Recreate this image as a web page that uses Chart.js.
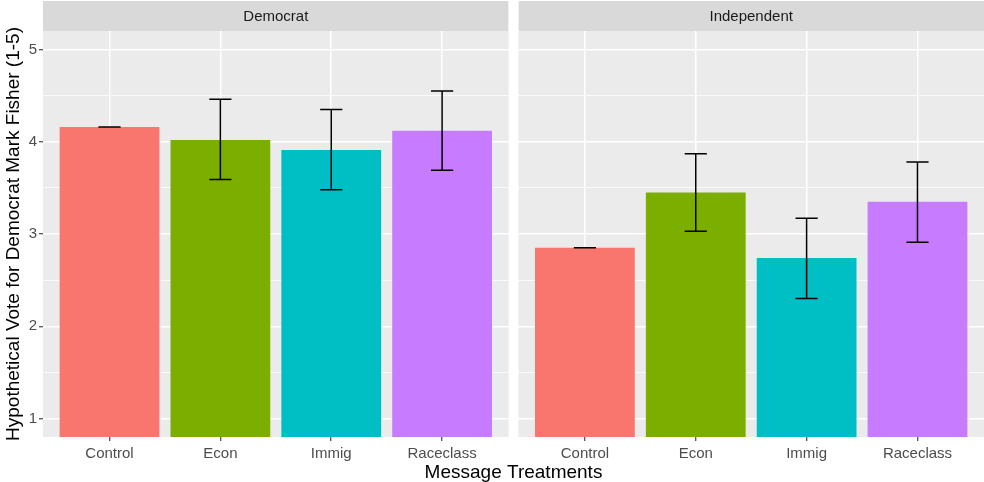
<!DOCTYPE html>
<html>
<head>
<meta charset="utf-8">
<script src="https://cdn.jsdelivr.net/npm/chart.js@4/dist/chart.umd.min.js"></script>
<style>
  html, body { margin: 0; padding: 0; background: #ffffff; }
  #wrap { width: 984px; height: 482px; }
</style>
</head>
<body>
<div id="wrap"><canvas id="chart" width="984" height="482"></canvas></div>
<script>
// Message treatments and facet names
const treatments = ['Control', 'Econ', 'Immig', 'Raceclass'];
const panels = ['Democrat', 'Independent'];

// Mean hypothetical vote (1-5) with confidence bounds, per facet
const democratMeans = [4.16, 4.02, 3.91, 4.12];
const democratLower = [4.16, 3.59, 3.48, 3.69];
const democratUpper = [4.16, 4.46, 4.35, 4.55];

const independentMeans = [2.85, 3.45, 2.74, 3.35];
const independentLower = [2.85, 3.03, 2.30, 2.91];
const independentUpper = [2.85, 3.87, 3.17, 3.78];

// Y axis labels
const yTickLabels = [1, 2, 3, 4, 5];

const barColors = ['#F8766D', '#7CAE00', '#00BFC4', '#C77CFF'];

// Facet geometry on a shared linear x axis (one unit per treatment)
const EXPAND = 0.6;          // discrete-axis padding on each side of a facet
const GAP = 0.088;           // white gutter between facets
const n = treatments.length;
const X_MIN = 1 - EXPAND;
const LEFT_END = n + EXPAND;
const SHIFT = LEFT_END + GAP - X_MIN;
const X_MAX = n + SHIFT + EXPAND;
const panelRanges = [[X_MIN, LEFT_END], [X_MIN + SHIFT, X_MAX]];
const xTickValues = treatments.map((_, i) => i + 1)
  .concat(treatments.map((_, i) => i + 1 + SHIFT));

const FONT = '"Liberation Sans", Arial, Helvetica, sans-serif';
Chart.defaults.font.family = FONT;

function points(means, shift) {
  return means.map((m, i) => ({ x: i + 1 + shift, y: m }));
}

// Grey panel backgrounds, facet strips and the gutter between facets
const facetPlugin = {
  id: 'facets',
  beforeDraw(chart) {
    const { ctx, chartArea: a, scales: { x } } = chart;
    ctx.save();
    ctx.fillStyle = '#EBEBEB';
    ctx.fillRect(a.left, a.top, a.right - a.left, a.bottom - a.top);
    panelRanges.forEach((r, k) => {
      const l = x.getPixelForValue(r[0]);
      const rr = x.getPixelForValue(r[1]);
      ctx.fillStyle = '#D9D9D9';
      ctx.fillRect(l, 1, rr - l, a.top - 1);
      ctx.fillStyle = '#1A1A1A';
      ctx.font = '15px ' + FONT;
      ctx.textAlign = 'center';
      ctx.textBaseline = 'middle';
      ctx.fillText(panels[k], (l + rr) / 2, (1 + a.top) / 2 + 1);
    });
    ctx.restore();
  },
  beforeDatasetsDraw(chart) {
    const { ctx, chartArea: a, scales: { x } } = chart;
    const gl = x.getPixelForValue(LEFT_END);
    const gr = x.getPixelForValue(LEFT_END + GAP);
    ctx.save();
    ctx.fillStyle = '#FFFFFF';
    ctx.fillRect(gl, 0, gr - gl, a.bottom - 0);
    ctx.restore();
  }
};

// Error bars with caps, drawn from each dataset's lower/upper arrays
const errorBarPlugin = {
  id: 'errorBars',
  afterDatasetsDraw(chart) {
    const { ctx, scales: { x, y } } = chart;
    ctx.save();
    ctx.strokeStyle = '#000000';
    ctx.lineWidth = 1.5;
    chart.data.datasets.forEach(ds => {
      ds.data.forEach((p, i) => {
        const px = x.getPixelForValue(p.x);
        const half = x.getPixelForValue(p.x + 0.1) - px;
        const yl = y.getPixelForValue(ds.errLow[i]);
        const yh = y.getPixelForValue(ds.errHigh[i]);
        ctx.beginPath();
        ctx.moveTo(px, yl); ctx.lineTo(px, yh);
        ctx.moveTo(px - half, yh); ctx.lineTo(px + half, yh);
        ctx.moveTo(px - half, yl); ctx.lineTo(px + half, yl);
        ctx.stroke();
      });
    });
    ctx.restore();
  }
};

const isMajor = v => Math.abs(v - Math.round(v)) < 1e-9;

new Chart(document.getElementById('chart'), {
  type: 'bar',
  data: {
    datasets: [
      {
        label: panels[0],
        data: points(democratMeans, 0),
        errLow: democratLower,
        errHigh: democratUpper,
        backgroundColor: barColors,
        grouped: false,
        categoryPercentage: 1,
        barPercentage: 0.9
      },
      {
        label: panels[1],
        data: points(independentMeans, SHIFT),
        errLow: independentLower,
        errHigh: independentUpper,
        backgroundColor: barColors,
        grouped: false,
        categoryPercentage: 1,
        barPercentage: 0.9
      }
    ]
  },
  options: {
    responsive: false,
    animation: false,
    layout: { padding: { top: 31, right: 0, left: 0, bottom: 0 } },
    plugins: {
      legend: { display: false },
      tooltip: { enabled: false },
      title: { display: false }
    },
    scales: {
      x: {
        type: 'linear',
        min: X_MIN,
        max: X_MAX,
        offset: false,
        afterBuildTicks: s => { s.ticks = xTickValues.map(v => ({ value: v })); },
        afterFit: s => { s.height = 45; },
        ticks: {
          callback: (v, i) => treatments[i % n],
          autoSkip: false,
          maxRotation: 0,
          padding: 4,
          color: '#4D4D4D',
          font: { size: 15 }
        },
        grid: {
          offset: false,
          color: '#FFFFFF',
          lineWidth: 1.5,
          tickLength: 4,
          tickColor: '#333333',
          tickWidth: 1.1
        },
        border: { display: false },
        title: {
          display: true,
          text: 'Message Treatments',
          color: '#000000',
          font: { size: 19 },
          padding: { top: 0, bottom: -2 }
        }
      },
      y: {
        min: 0.8,
        max: 5.2,
        afterBuildTicks: s => {
          const vals = [];
          yTickLabels.forEach((v, i) => {
            vals.push(v);
            if (i < yTickLabels.length - 1) vals.push(v + 0.5);
          });
          s.ticks = vals.map(v => ({ value: v }));
        },
        afterFit: s => { s.width = 43; },
        ticks: {
          callback: v => (isMajor(v) ? String(v) : ''),
          padding: 2,
          color: '#4D4D4D',
          font: { size: 15 }
        },
        grid: {
          color: '#FFFFFF',
          lineWidth: c => (isMajor(c.tick.value) ? 1.5 : 0.75),
          tickLength: 4,
          tickColor: c => (isMajor(c.tick.value) ? '#333333' : 'rgba(0,0,0,0)'),
          tickWidth: 1.1
        },
        border: { display: false },
        title: {
          display: true,
          text: 'Hypothetical Vote for Democrat Mark Fisher (1-5)',
          color: '#000000',
          font: { size: 19 },
          padding: { top: 2, bottom: 0 }
        }
      }
    }
  },
  plugins: [facetPlugin, errorBarPlugin]
});
</script>
</body>
</html>
